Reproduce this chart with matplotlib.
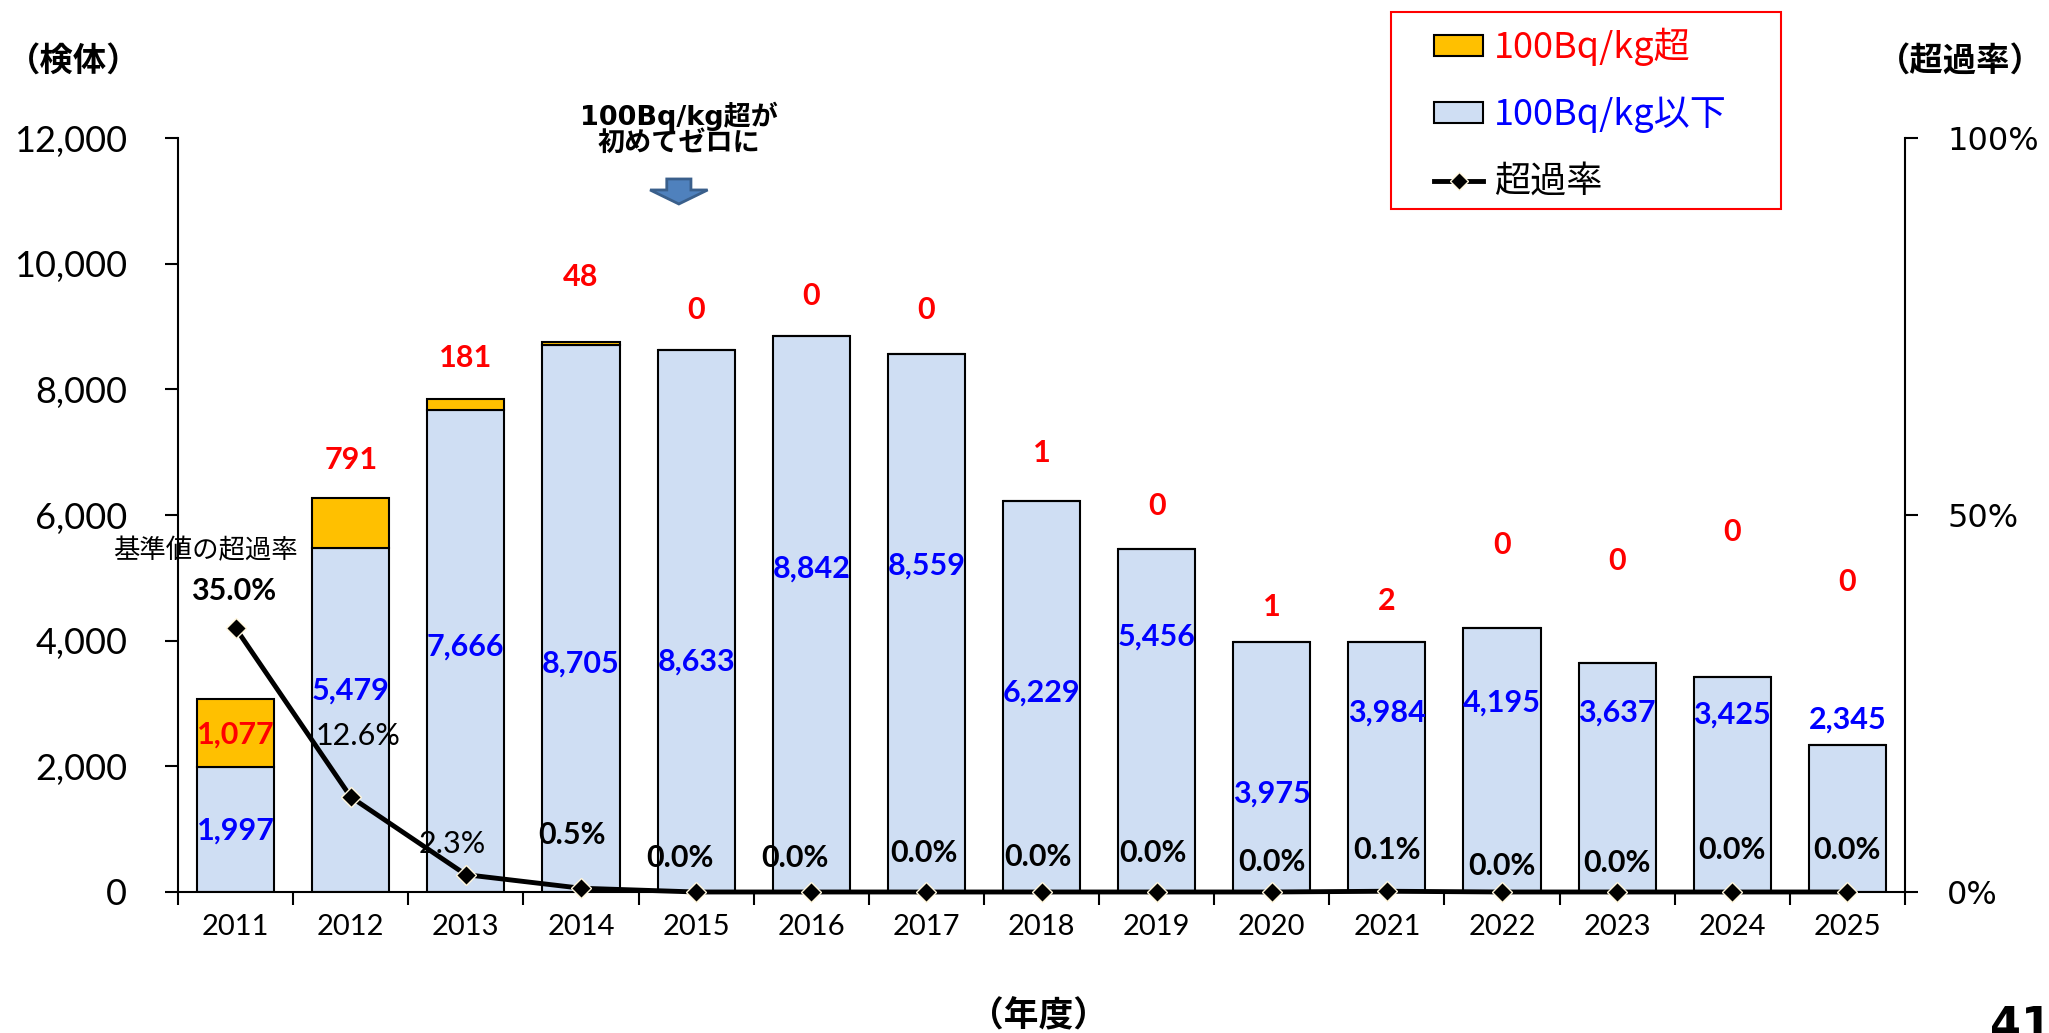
import numpy as np
import matplotlib
matplotlib.use("Agg")
import matplotlib.pyplot as plt
import matplotlib.patches as mpatches
from matplotlib.lines import Line2D

# data
years = ["2011", "2012", "2013", "2014", "2015", "2016", "2017", "2018",
         "2019", "2020", "2021", "2022", "2023", "2024", "2025"]
below_100 = [1997, 5479, 7666, 8705, 8633, 8842, 8559, 6229, 5456, 3975,
             3984, 4195, 3637, 3425, 2345]
over_100 = [1077, 791, 181, 48, 0, 0, 0, 1, 0, 1, 2, 0, 0, 0, 0]
over_rate = [35.0, 12.6, 2.3, 0.5, 0.0, 0.0, 0.0, 0.0, 0.0, 0.0, 0.1, 0.0,
             0.0, 0.0, 0.0]

# where the value labels sit (count units on the left axis)
over_label_y = [2500, 6875, 8500, 9790, 9270, 9480, 9270, 6980, 6150, 4540,
                4630, 5520, 5270, 5730, 4940]
below_label_y = [980, 3210, 3900, 3630, 3670, 5150, 5190, 3170, 4060, 1560,
                 2850, 3020, 2850, 2830, 2750]
rate_label_y = [4790, 2480, 770, 900, 540, 540, 625, 560, 625, 480, 665, 420,
                460, 665, 665]
rate_label_dx = [-0.02, 0.06, -0.12, -0.08, -0.14, -0.14, -0.02, -0.03, -0.03,
                 0, 0, 0, 0, 0, 0]
rate_regular = {1, 2}

C_BELOW = "#CFDEF3"
C_OVER = "#FFC000"
JP = "Noto Sans CJK JP"
NUM = "Lato"

fig = plt.figure(figsize=(20.49, 10.33), dpi=100)
ax = fig.add_axes([0.0869, 0.1365, 0.8428, 0.7299])
x = np.arange(len(years))

ax.bar(x, below_100, width=0.67, color=C_BELOW, edgecolor="black", linewidth=1.5, zorder=2)
ax.bar(x, over_100, width=0.67, bottom=below_100, color=C_OVER, edgecolor="black",
       linewidth=1.5, zorder=2)

ax.set_xlim(-0.5, len(years) - 0.5)
ax.set_ylim(0, 12000)
ax.set_yticks(np.arange(0, 12001, 2000))
ax.set_yticklabels([f"{v:,}" for v in range(0, 12001, 2000)], fontfamily=NUM, fontsize=26)
ax.set_xticks(x)
ax.set_xticklabels(years, fontfamily=NUM, fontsize=21)
ax.set_xticks(np.arange(-0.5, len(years), 1), minor=True)
ax.tick_params(axis="x", which="major", length=0, pad=16)
ax.tick_params(axis="x", which="minor", length=9.5, width=1.5, direction="out")
ax.tick_params(axis="y", length=9.5, width=1.5, pad=27)
ax.spines["top"].set_visible(False)
ax.spines["right"].set_visible(False)
for s in ("left", "bottom"):
    ax.spines[s].set_linewidth(1.5)

# value labels
for i in range(len(years)):
    ax.text(i, over_label_y[i], f"{over_100[i]:,}", ha="center", va="center", color="red",
            fontfamily=NUM, fontweight="bold", fontsize=22, zorder=4)
    ax.text(i, below_label_y[i], f"{below_100[i]:,}", ha="center", va="center", color="blue",
            fontfamily=NUM, fontweight="bold", fontsize=22, zorder=4)
    ax.text(i + rate_label_dx[i], rate_label_y[i], f"{over_rate[i]:.1f}%", ha="center",
            va="center", color="black", fontfamily=NUM,
            fontweight="normal" if i in rate_regular else "bold", fontsize=22, zorder=4)

ax.text(-0.26, 5430, "基準値の超過率", ha="center", va="center", fontfamily=JP, fontsize=19)

# note and arrow above 2015
ax.text(3.85, 12140, "100Bq/kg超が\n初めてゼロに", ha="center", va="center",
        fontfamily=["DejaVu Sans", JP], fontweight="bold", fontsize=19.5, linespacing=1.0,
        clip_on=False)
arrow = mpatches.FancyArrow(3.85, 11348, 0, -398, width=0.21, head_width=0.5, head_length=223,
                            length_includes_head=True, facecolor="#4F81BD",
                            edgecolor="#3A5F8B", linewidth=2, clip_on=False, zorder=5)
ax.add_patch(arrow)

# exceedance rate on the right axis
ax2 = ax.twinx()
ax2.plot(x, over_rate, color="black", linewidth=3.5, marker="D", markersize=10,
         markerfacecolor="black", markeredgecolor="#FFF6DC", markeredgewidth=1, zorder=6,
         clip_on=False)
ax2.set_ylim(0, 100)
ax2.set_yticks([0, 50, 100])
ax2.set_yticklabels(["0%", "50%", "100%"], fontfamily="DejaVu Sans", fontsize=23)
ax2.tick_params(axis="y", length=9.5, width=1.5, pad=21)
ax2.spines["top"].set_visible(False)
ax2.spines["left"].set_visible(False)
ax2.spines["bottom"].set_visible(False)
ax2.spines["right"].set_linewidth(1.5)

# axis titles and page number
fig.text(0.0357, 0.941, "（検体）", ha="center", va="center", fontfamily=JP,
         fontweight="bold", fontsize=24)
fig.text(0.9566, 0.941, "（超過率）", ha="center", va="center", fontfamily=JP,
         fontweight="bold", fontsize=24)
fig.text(0.507, 0.017, "（年度）", ha="center", va="center", fontfamily=JP,
         fontweight="bold", fontsize=25)
fig.text(0.971, 0.027, "41", ha="left", va="top", fontfamily="DejaVu Sans",
         fontweight="bold", fontsize=32)

# legend in a red box
fig.patches.append(mpatches.Rectangle((0.679, 0.798), 0.190, 0.190, transform=fig.transFigure,
                                      fill=False, edgecolor="red", linewidth=1.5))
handles = [mpatches.Patch(facecolor=C_OVER, edgecolor="black", linewidth=1.5),
           mpatches.Patch(facecolor=C_BELOW, edgecolor="black", linewidth=1.5),
           Line2D([], [], color="black", linewidth=3.5, marker="D", markersize=9,
                  markerfacecolor="black", markeredgecolor="#FFF6DC")]
leg = fig.legend(handles, ["100Bq/kg超", "100Bq/kg以下", "超過率"], loc="upper left",
                 bbox_to_anchor=(0.700, 0.973), frameon=False, borderpad=0,
                 borderaxespad=0, handlelength=1.35, handleheight=0.5, handletextpad=0.3,
                 labelspacing=0.85, prop={"family": JP, "size": 26},
                 labelcolor=["red", "blue", "black"])

fig.savefig("out.png", dpi=100)
